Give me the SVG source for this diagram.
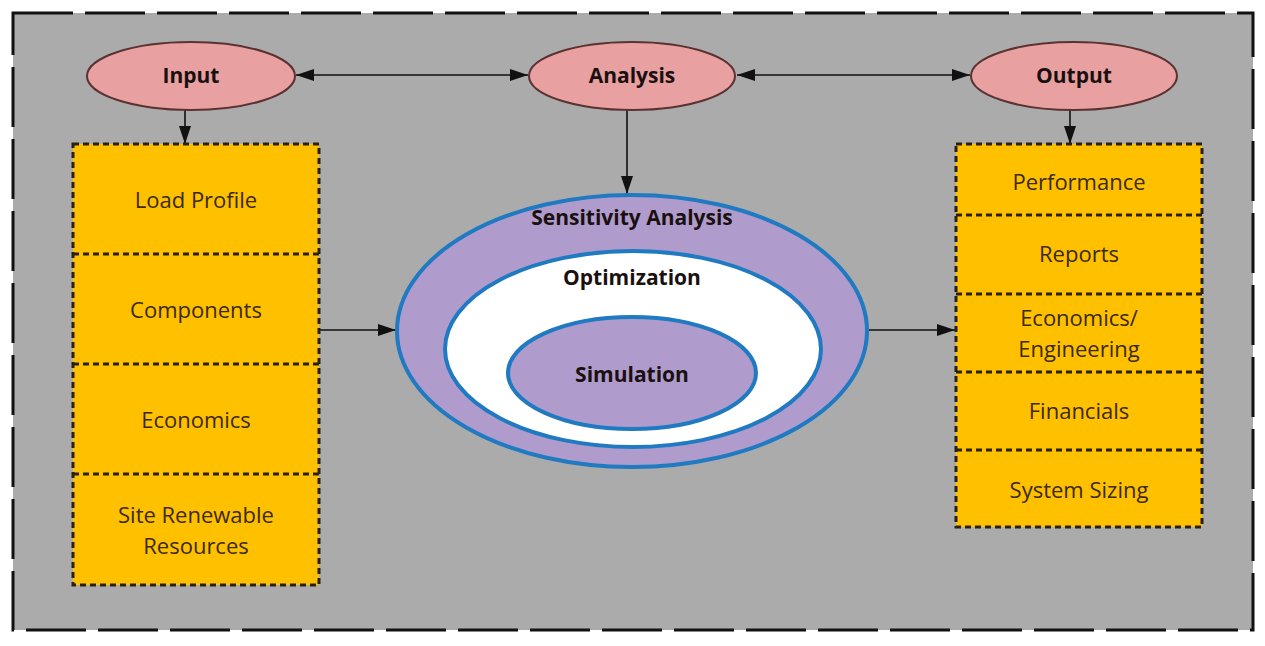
<svg xmlns="http://www.w3.org/2000/svg" width="1265" height="646" viewBox="0 0 1265 646">
<style>
.lbl{font-family:"Open Sans","Liberation Sans",sans-serif;font-size:22px;fill:#3b2a0c;text-anchor:middle}
.b{font-family:"Open Sans","Liberation Sans",sans-serif;font-size:21px;font-weight:bold;fill:#1a1010;text-anchor:middle}
.pink{fill:#e8a0a0;stroke:#5a3232;stroke-width:2}
.box{fill:#ffc000;stroke:#2a2010;stroke-width:3;stroke-dasharray:6 4}
.div{stroke:#2a2010;stroke-width:3;stroke-dasharray:6 4}
.con{stroke:#111;stroke-width:1.6;fill:none}
</style>
<defs>
<marker id="ah" viewBox="0 0 18 12" refX="18" refY="6" markerWidth="18" markerHeight="12" markerUnits="userSpaceOnUse" orient="auto-start-reverse">
<path d="M0,0 L18,6 L0,12 Z" fill="#111"/>
</marker>
</defs>
<rect width="1265" height="646" fill="#fff"/>
<rect id="frame" x="13" y="13" width="1240" height="617" fill="#ababab" stroke="#111" stroke-width="3" stroke-dasharray="60 12"/>

<g id="connectors">
<line class="con" x1="296" y1="75" x2="528" y2="75" marker-start="url(#ah)" marker-end="url(#ah)"/>
<line class="con" x1="737" y1="75" x2="970" y2="75" marker-start="url(#ah)" marker-end="url(#ah)"/>
<line class="con" x1="185" y1="110" x2="185" y2="144" marker-end="url(#ah)"/>
<line class="con" x1="627" y1="110" x2="627" y2="194" marker-end="url(#ah)"/>
<line class="con" x1="1070" y1="110" x2="1070" y2="144" marker-end="url(#ah)"/>
<line class="con" x1="320" y1="330" x2="396" y2="330" marker-end="url(#ah)"/>
<line class="con" x1="869" y1="330" x2="955" y2="330" marker-end="url(#ah)"/>
</g>

<g id="input"><ellipse class="pink" cx="191" cy="76" rx="104" ry="34"/><text class="b" x="191" y="83">Input</text></g>
<g id="analysis"><ellipse class="pink" cx="632" cy="76" rx="103" ry="34"/><text class="b" x="632" y="83">Analysis</text></g>
<g id="output"><ellipse class="pink" cx="1074" cy="76" rx="103" ry="34"/><text class="b" x="1074" y="83">Output</text></g>

<g id="inputs">
<rect class="box" x="73" y="144" width="246" height="441"/>
<line class="div" x1="73" y1="254" x2="319" y2="254"/>
<line class="div" x1="73" y1="364" x2="319" y2="364"/>
<line class="div" x1="73" y1="474" x2="319" y2="474"/>
<text class="lbl" x="196" y="208">Load Profile</text>
<text class="lbl" x="196" y="318">Components</text>
<text class="lbl" x="196" y="428">Economics</text>
<text class="lbl" x="196" y="523">Site Renewable</text>
<text class="lbl" x="196" y="554">Resources</text>
</g>

<g id="sensitivity">
<ellipse cx="632" cy="331" rx="235" ry="136" fill="#b09ccc" stroke="#1f7ac2" stroke-width="4"/>
<text class="b" x="632" y="225">Sensitivity Analysis</text>
</g>
<g id="optimization">
<ellipse cx="633" cy="349" rx="188" ry="98" fill="#fff" stroke="#1f7ac2" stroke-width="4"/>
<text class="b" x="632" y="285">Optimization</text>
</g>
<g id="simulation">
<ellipse cx="632" cy="373" rx="124" ry="56" fill="#b09ccc" stroke="#1f7ac2" stroke-width="4"/>
<text class="b" x="632" y="382">Simulation</text>
</g>

<g id="outputs">
<rect class="box" x="956" y="144" width="246" height="383"/>
<line class="div" x1="956" y1="215" x2="1202" y2="215"/>
<line class="div" x1="956" y1="294" x2="1202" y2="294"/>
<line class="div" x1="956" y1="372" x2="1202" y2="372"/>
<line class="div" x1="956" y1="450" x2="1202" y2="450"/>
<text class="lbl" x="1079" y="190">Performance</text>
<text class="lbl" x="1079" y="262">Reports</text>
<text class="lbl" x="1079" y="326">Economics/</text>
<text class="lbl" x="1079" y="357">Engineering</text>
<text class="lbl" x="1079" y="419">Financials</text>
<text class="lbl" x="1079" y="498">System Sizing</text>
</g>
</svg>
